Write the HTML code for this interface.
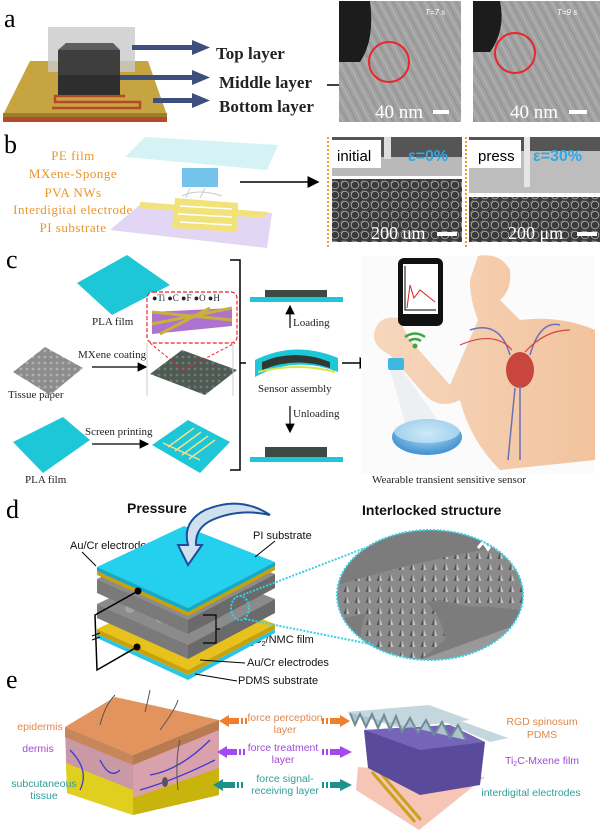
<!DOCTYPE html>
<html><head><meta charset="utf-8"><style>
html,body{margin:0;padding:0;background:#fff;}
svg{display:block;}
.ser{font-family:"Liberation Serif",serif;}
.san{font-family:"Liberation Sans",sans-serif;}
</style></head><body>
<svg width="600" height="835" viewBox="0 0 600 835" xmlns="http://www.w3.org/2000/svg">
<defs>
<pattern id="streak" width="8" height="8" patternUnits="userSpaceOnUse" patternTransform="rotate(62)"><rect width="8" height="8" fill="#a2a2a2"/><line x1="0" y1="2" x2="8" y2="2" stroke="#bcbcbc" stroke-width="0.8"/><line x1="0" y1="6" x2="8" y2="6" stroke="#8a8a8a" stroke-width="0.8"/></pattern>
<pattern id="foam" width="10" height="10" patternUnits="userSpaceOnUse"><rect width="10" height="10" fill="#3a3a3a"/><circle cx="5" cy="5" r="3.8" fill="none" stroke="#aaa" stroke-width="0.9"/><circle cx="0" cy="0" r="2.5" fill="none" stroke="#888" stroke-width="0.7"/></pattern>
<pattern id="dots" width="6" height="6" patternUnits="userSpaceOnUse"><rect width="6" height="6" fill="#8c8c8c"/><circle cx="3" cy="3" r="1.4" fill="#b0b0b0"/></pattern>
<pattern id="dots2" width="6" height="6" patternUnits="userSpaceOnUse"><rect width="6" height="6" fill="#4f5a54"/><circle cx="3" cy="3" r="1.4" fill="#6f7a74"/></pattern>
<pattern id="spikes" width="11" height="11" patternUnits="userSpaceOnUse"><rect width="11" height="11" fill="#8a8a8a"/><path d="M5.5 1 L8.5 9 L2.5 9Z" fill="#555"/><path d="M5.5 1 L8.5 9 L5.5 9Z" fill="#c4c4c4"/></pattern>
<linearGradient id="skin" x1="0" y1="0" x2="1" y2="0"><stop offset="0" stop-color="#f6d7bd"/><stop offset="1" stop-color="#f2c39e"/></linearGradient>
<radialGradient id="dish" cx="0.5" cy="0.4" r="0.6"><stop offset="0" stop-color="#bfe3f7"/><stop offset="1" stop-color="#3d8fd0"/></radialGradient>
<marker id="ah" markerWidth="8" markerHeight="8" refX="7" refY="4" orient="auto"><path d="M0 0 L8 4 L0 8Z" fill="#000"/></marker>
<clipPath id="circ"><ellipse cx="430" cy="595" rx="93" ry="65"/></clipPath>
</defs>

<!-- ============ Panel a ============ -->
<text x="4" y="27" class="ser" font-size="26">a</text>
<polygon points="3,115 167,115 167,122 3,122" fill="#b5492a"/>
<polygon points="3,115 30,61 148,61 167,115" fill="#c6a541"/>
<polygon points="3,113 167,113 167,117 3,117" fill="#9c7f2e"/>
<path d="M52,108 L140,108 L140,102 L55,102 L55,96 L125,96" stroke="#b5492a" stroke-width="2.5" fill="none"/>
<polygon points="48,72 48,27 135,27 135,72" fill="#c9c9c9" opacity="0.8"/>
<polygon points="58,95 58,50 120,50 120,95" fill="#3e3e3e"/>
<polygon points="58,50 66,43 113,43 120,50" fill="#5e5e5e"/>
<polygon points="58,75 120,75 120,95 58,95" fill="#2e2e2e"/>
<g fill="#3d4f7c">
<rect x="132" y="45" width="62" height="5"/><polygon points="192,40 210,47.5 192,55"/>
<rect x="120" y="75" width="74" height="5"/><polygon points="192,70 210,77.5 192,85"/>
<rect x="153" y="98" width="41" height="5"/><polygon points="192,93 210,100.5 192,108"/>
</g>
<g class="ser" font-size="17" font-weight="bold" fill="#222">
<text x="216" y="59">Top layer</text>
<text x="219" y="88">Middle layer</text>
<text x="219" y="112">Bottom layer</text>
</g>
<line x1="327" y1="85" x2="356" y2="85" stroke="#000" stroke-width="1.5" marker-end="url(#ah)"/>
<rect x="339" y="1" width="122" height="121" fill="url(#streak)"/>
<path d="M339,1 L370,1 Q375,40 360,62 L339,62Z" fill="#1c1c1c"/>
<circle cx="389" cy="62" r="20" fill="none" stroke="#e8262b" stroke-width="2"/>
<text x="425" y="15" class="san" font-size="8" font-style="italic" fill="#fff">T=7 s</text>
<text x="375" y="118" class="ser" font-size="19" fill="#fff">40 nm</text>
<rect x="433" y="110" width="16" height="4" fill="#fff"/>
<rect x="473" y="1" width="127" height="121" fill="url(#streak)"/>
<path d="M473,1 L500,1 Q506,30 490,52 L473,52Z" fill="#1c1c1c"/>
<circle cx="515" cy="53" r="20" fill="none" stroke="#e8262b" stroke-width="2"/>
<text x="557" y="15" class="san" font-size="8" font-style="italic" fill="#fff">T=9 s</text>
<text x="510" y="118" class="ser" font-size="19" fill="#fff">40 nm</text>
<rect x="569" y="110" width="18" height="4" fill="#fff"/>

<!-- ============ Panel b ============ -->
<text x="4" y="153" class="ser" font-size="26">b</text>
<g class="ser" font-size="13" fill="#e8962e" text-anchor="middle" letter-spacing="0.5">
<text x="73" y="160">PE film</text>
<text x="73" y="178">MXene-Sponge</text>
<text x="73" y="197">PVA NWs</text>
<text x="73" y="214">Interdigital electrode</text>
<text x="73" y="232">PI substrate</text>
</g>
<polygon points="125,157 145,137 278,145 267,170" fill="#d5f2f5"/>
<polygon points="110,230 143,202 272,213 267,248" fill="#e3d6f5"/>
<polygon points="140,202 268,212 262,218 140,208" fill="#f1e37a"/>
<polygon points="175,198 238,203 238,232 172,228" fill="#f1e37a"/>
<path d="M180,206 L232,209 M178,214 L232,217 M180,222 L232,225" stroke="#fff" stroke-width="1.5"/>
<path d="M182,196 Q198,188 222,196 M186,198 L190,188 M200,198 L205,188" stroke="#ccc" fill="none"/>
<rect x="182" y="168" width="36" height="19" fill="#5ab8e8" opacity="0.85"/>
<line x1="240" y1="182" x2="318" y2="182" stroke="#000" stroke-width="1.5" marker-end="url(#ah)"/>
<line x1="328" y1="137" x2="328" y2="247" stroke="#f39c2b" stroke-width="2" stroke-dasharray="2,2"/>
<line x1="466" y1="137" x2="466" y2="247" stroke="#f39c2b" stroke-width="2" stroke-dasharray="2,2"/>
<rect x="332" y="157" width="130" height="20" fill="#b9b9b9"/>
<rect x="332" y="137" width="130" height="20" fill="#555"/>
<rect x="332" y="176" width="130" height="3" fill="#fff"/>
<rect x="332" y="179" width="130" height="63" fill="url(#foam)"/>
<rect x="332" y="140" width="49" height="28" fill="#fff"/>
<text x="337" y="161" class="san" font-size="15" fill="#000">initial</text>
<rect x="384" y="137" width="7" height="22" fill="#ddd"/>
<text x="408" y="161" class="san" font-size="16" font-weight="bold" fill="#2ea8e6">ε=0%</text>
<text x="371" y="239" class="ser" font-size="18" fill="#fff">200 um</text>
<rect x="437" y="232" width="20" height="4" fill="#fff"/>
<rect x="469" y="137" width="131" height="58" fill="#bdbdbd"/>
<rect x="469" y="137" width="131" height="14" fill="#555"/>
<rect x="469" y="193" width="131" height="4" fill="#fff"/>
<rect x="469" y="197" width="131" height="45" fill="url(#foam)"/>
<rect x="469" y="140" width="52" height="28" fill="#fff"/>
<text x="478" y="161" class="san" font-size="15" fill="#000">press</text>
<rect x="524" y="137" width="6" height="50" fill="#e6e6e6"/>
<text x="533" y="161" class="san" font-size="16" font-weight="bold" fill="#2ea8e6">ε=30%</text>
<text x="508" y="239" class="ser" font-size="18" fill="#fff">200 μm</text>
<rect x="577" y="232" width="20" height="4" fill="#fff"/>

<!-- ============ Panel c ============ -->
<text x="6" y="268" class="ser" font-size="26">c</text>
<g class="ser" font-size="11" fill="#222">
<text x="92" y="325">PLA film</text>
<text x="8" y="398">Tissue paper</text>
<text x="78" y="358">MXene coating</text>
<text x="25" y="483">PLA film</text>
<text x="85" y="435">Screen printing</text>
<text x="293" y="326">Loading</text>
<text x="258" y="392">Sensor assembly</text>
<text x="293" y="417">Unloading</text>
<text x="372" y="483">Wearable transient sensitive sensor</text>
</g>
<polygon points="77,283 127,255 170,285 112,315" fill="#1ec7d8"/>
<polygon points="13,442 63,417 90,440 43,473" fill="#1ec7d8"/>
<polygon points="13,372 45,347 83,368 50,395" fill="url(#dots)"/>
<polygon points="150,374 182,350 237,370 205,395" fill="url(#dots2)"/>
<polygon points="152,445 188,420 230,442 200,473" fill="#1ec7d8"/>
<path d="M168,447 L194,428 M175,451 L201,432 M182,455 L208,436 M189,459 L215,440 M163,443 L200,460" stroke="#f4e08a" stroke-width="1.5" fill="none"/>
<line x1="92" y1="367" x2="146" y2="367" stroke="#000" stroke-width="1.2" marker-end="url(#ah)"/>
<line x1="92" y1="444" x2="148" y2="444" stroke="#000" stroke-width="1.2" marker-end="url(#ah)"/>
<rect x="147" y="292" width="90" height="51" rx="6" fill="#fff" stroke="#e8262b" stroke-dasharray="4,2" stroke-width="1.2"/>
<text x="152" y="301" class="ser" font-size="9" fill="#222">●Ti ●C ●F ●O ●H</text>
<polygon points="152,312 232,308 232,326 152,334" fill="#9a4fc4" opacity="0.8"/>
<path d="M152,312 L232,320 M152,324 L232,308 M160,334 L210,308" stroke="#c8b03a" stroke-width="3"/>
<path d="M150,343 L183,370 L235,343" stroke="#e8262b" stroke-dasharray="3,2" fill="none"/>
<line x1="147" y1="343" x2="147" y2="396" stroke="#ccc"/><line x1="233" y1="343" x2="233" y2="396" stroke="#ccc"/>
<path d="M230,260 L240,260 L240,470 L230,470 M240,363 L246,363" stroke="#000" stroke-width="1.5" fill="none"/>
<rect x="250" y="297" width="93" height="5" fill="#1ec7d8"/><rect x="265" y="290" width="62" height="7" fill="#3d4a44"/>
<line x1="290" y1="328" x2="290" y2="306" stroke="#000" stroke-width="1.2" marker-end="url(#ah)"/>
<path d="M255,360 Q295,340 338,358 L338,372 Q295,355 255,377Z" fill="#1ec7d8"/>
<path d="M262,362 Q295,348 330,362 L330,368 Q295,356 262,370Z" fill="#2f3a34"/>
<path d="M258,372 Q298,362 335,372" stroke="#d7e34f" stroke-width="2" fill="none"/>
<line x1="290" y1="406" x2="290" y2="432" stroke="#000" stroke-width="1.2" marker-end="url(#ah)"/>
<rect x="250" y="457" width="93" height="5" fill="#1ec7d8"/><rect x="265" y="447" width="62" height="10" fill="#3d4a44"/>
<line x1="342" y1="363" x2="370" y2="363" stroke="#000" stroke-width="1.5" marker-end="url(#ah)"/>
<rect x="361" y="256" width="234" height="218" fill="#fbfbfb"/>
<path d="M478,256 Q500,252 510,270 Q512,290 500,300 L520,320 Q560,315 595,330 L595,460 L500,470 Q470,440 460,400 Q440,410 425,395 L390,355 Q370,345 375,330 Q380,315 398,318 L410,340 L450,385 Q465,350 478,320 Q470,300 470,280Z" fill="url(#skin)"/>
<ellipse cx="520" cy="370" rx="14" ry="18" fill="#c8463e"/>
<path d="M510,355 Q500,320 470,330 M530,355 Q540,320 560,325 M520,385 L520,460 M515,388 L508,460" stroke="#6b6fb8" stroke-width="1.5" fill="none"/>
<path d="M512,350 Q495,330 460,345 M525,352 Q545,330 570,330" stroke="#d0473e" stroke-width="1.2" fill="none"/>
<rect x="388" y="358" width="16" height="12" rx="2" fill="#3db8e0"/>
<polygon points="390,370 402,370 445,430 410,440" fill="#e4eaee" opacity="0.6"/>
<ellipse cx="427" cy="437" rx="35" ry="18" fill="url(#dish)"/>
<ellipse cx="427" cy="431" rx="33" ry="12" fill="#d6eefa" opacity="0.6"/>
<rect x="398" y="258" width="45" height="68" rx="6" fill="#111"/>
<rect x="403" y="264" width="35" height="50" fill="#fff"/>
<path d="M407,308 L410,285 L414,298 L420,290 L435,302" stroke="#d22" fill="none"/>
<path d="M405,266 L405,310 L436,310" stroke="#000" fill="none"/>
<path d="M405,337 Q415,330 425,337 M409,341 Q415,337 421,341" stroke="#3fa648" stroke-width="2.5" fill="none"/>
<circle cx="415" cy="346" r="2.5" fill="#3fa648"/>

<!-- ============ Panel d ============ -->
<text x="6" y="518" class="ser" font-size="26">d</text>
<text x="127" y="513" class="san" font-size="14" font-weight="bold" fill="#111">Pressure</text>
<text x="362" y="515" class="san" font-size="14" font-weight="bold" fill="#111">Interlocked structure</text>
<g class="san" font-size="11" fill="#111">
<text x="70" y="549">Au/Cr electrodes</text>
<text x="253" y="539">PI substrate</text>
<text x="241" y="643">Ti<tspan font-size="7" dy="3">3</tspan><tspan dy="-3">C</tspan><tspan font-size="7" dy="3">2</tspan><tspan dy="-3">/NMC film</tspan></text>
<text x="247" y="666">Au/Cr electrodes</text>
<text x="238" y="684">PDMS substrate</text>
</g>
<g>
<polygon points="97,634 188,675 275,629 275,633 188,680 97,638" fill="#29c5e6"/>
<polygon points="97,629 184,588 275,624 188,670" fill="#e8c21c"/>
<polygon points="97,629 188,670 275,624 275,629 188,675 97,634" fill="#c9a10b"/>
<polygon points="97,604 184,563 275,599 188,645" fill="#8b8b8b"/>
<polygon points="97,604 188,645 188,659 97,618" fill="#7a7a7a"/>
<polygon points="188,645 275,599 275,613 188,659" fill="#6a6a6a"/>
<g fill="#aaa" opacity="0.8"><circle cx="130" cy="608" r="5"/><circle cx="160" cy="618" r="5"/><circle cx="190" cy="628" r="5"/><circle cx="215" cy="612" r="5"/><circle cx="240" cy="600" r="5"/><circle cx="180" cy="598" r="5"/></g>
<polygon points="97,579 184,538 275,574 188,620" fill="#8b8b8b"/>
<polygon points="97,579 188,620 188,634 97,593" fill="#7a7a7a"/>
<polygon points="188,620 275,574 275,588 188,634" fill="#6a6a6a"/>
<polygon points="97,571 184,530 275,566 188,612" fill="#e8c21c"/>
<polygon points="97,571 188,612 275,566 275,570 188,616 97,575" fill="#c9a10b"/>
<polygon points="97,567 184,526 275,562 188,608" fill="#25cfee"/>
<polygon points="97,567 188,608 275,562 275,566 188,612 97,571" fill="#14a9c9"/>
</g>
<path d="M270,515 Q240,495 205,510 Q182,522 188,545 L178,545 L188,565 L202,545 L196,545 Q195,528 212,520 Q240,508 270,515Z" fill="#cfe0ef" stroke="#1b4f9c" stroke-width="2"/>
<path d="M138,591 L95,615 L97,670 L137,647" stroke="#000" stroke-width="1.5" fill="none"/>
<circle cx="138" cy="591" r="3.5" fill="#000"/><circle cx="137" cy="647" r="3.5" fill="#000"/>
<path d="M92,636 L100,633 M92,640 L100,637" stroke="#000" stroke-width="1"/>
<path d="M203,615 L216,615 L216,643 L203,643 M216,629 L220,629" stroke="#000" stroke-width="1.2" fill="none"/>
<line x1="82" y1="552" x2="96" y2="566" stroke="#000"/>
<line x1="275" y1="541" x2="255" y2="557" stroke="#000"/>
<line x1="245" y1="663" x2="200" y2="660" stroke="#000"/>
<line x1="237" y1="681" x2="195" y2="674" stroke="#000"/>
<g clip-path="url(#circ)">
<rect x="330" y="525" width="200" height="140" fill="#7c7c7c"/>
<path d="M337,585 Q420,560 510,545 L525,600 Q480,610 460,605 L440,600 Q400,605 337,620Z" fill="url(#spikes)"/>
<path d="M360,650 Q360,590 400,590 Q440,600 445,640 L420,660Z" fill="url(#spikes)"/>
<path d="M470,605 Q480,570 520,565 L525,610 Z" fill="url(#spikes)"/>
<path d="M420,660 L530,620 L530,665 Z" fill="#999"/>
<path d="M478,548 L483,542 L488,549 L493,542 L498,549 L503,543 L508,550" stroke="#fff" stroke-width="3" fill="none"/>
</g>
<ellipse cx="430" cy="595" rx="93" ry="65" fill="none" stroke="#35d0e8" stroke-width="2" stroke-dasharray="2,1.5"/>
<ellipse cx="240" cy="608" rx="9" ry="12" fill="none" stroke="#35d0e8" stroke-width="2" stroke-dasharray="2,1.5"/>
<line x1="240" y1="596" x2="365" y2="548" stroke="#35d0e8" stroke-width="2" stroke-dasharray="2,1.5"/>
<line x1="245" y1="619" x2="375" y2="645" stroke="#35d0e8" stroke-width="2" stroke-dasharray="2,1.5"/>

<!-- ============ Panel e ============ -->
<text x="6" y="688" class="ser" font-size="26">e</text>
<polygon points="65,727 133,755 133,815 67,793" fill="#c99aa6"/>
<polygon points="133,755 219,720 219,795 133,815" fill="#d8a1ab"/>
<polygon points="66,763 133,790 133,815 67,793" fill="#e0cf1e"/>
<polygon points="133,798 219,768 219,795 133,815" fill="#c9b40e"/>
<polygon points="65,727 133,755 133,765 65,737" fill="#c8875a"/>
<polygon points="133,755 219,720 219,730 133,765" fill="#b87a50"/>
<polygon points="65,727 115,697 219,720 133,755" fill="#e2935e"/>
<path d="M70,750 Q90,770 80,790 M100,760 Q110,780 120,770 M150,775 Q180,770 210,740 M140,790 Q175,780 215,760" stroke="#3d3ad0" stroke-width="1.3" fill="none"/>
<path d="M100,725 Q105,705 115,695 M145,712 Q148,700 150,690 M160,730 Q175,710 178,700 M178,790 Q175,760 180,740" stroke="#555" stroke-width="1" fill="none"/>
<ellipse cx="165" cy="782" rx="3" ry="5" fill="#555"/>
<g class="san" font-size="10.5" text-anchor="middle">
<text x="40" y="730" fill="#e0874b">epidermis</text>
<text x="38" y="752" fill="#a349d8">dermis</text>
<text x="44" y="787" fill="#2e9e9a">subcutaneous</text>
<text x="44" y="799" fill="#2e9e9a">tissue</text>
<text x="285" y="721" fill="#e0874b">force perception</text>
<text x="285" y="733" fill="#e0874b">layer</text>
<text x="283" y="751" fill="#a349d8">force treatment</text>
<text x="283" y="763" fill="#a349d8">layer</text>
<text x="285" y="782" fill="#2e9e9a">force signal-</text>
<text x="285" y="794" fill="#2e9e9a">receiving layer</text>
<text x="542" y="725" fill="#e0874b">RGD spinosum</text>
<text x="542" y="738" fill="#e0874b">PDMS</text>
<text x="542" y="764" fill="#a349d8">Ti<tspan font-size="7" dy="2">2</tspan><tspan dy="-2">C-Mxene film</tspan></text>
<text x="531" y="796" fill="#2e9e9a">interdigital electrodes</text>
</g>
<g>
<polygon points="219,721 229,715 229,727" fill="#ef7f2c"/><rect x="229" y="718" width="10" height="6" fill="#ef7f2c"/><rect x="241" y="718" width="2" height="6" fill="#ef7f2c"/><rect x="245" y="718" width="2" height="6" fill="#ef7f2c"/>
<rect x="322" y="718" width="2" height="6" fill="#ef7f2c"/><rect x="326" y="718" width="2" height="6" fill="#ef7f2c"/><rect x="330" y="718" width="10" height="6" fill="#ef7f2c"/><polygon points="340,715 350,721 340,727" fill="#ef7f2c"/>
<polygon points="217,752 227,746 227,758" fill="#a349ef"/><rect x="227" y="749" width="10" height="6" fill="#a349ef"/><rect x="239" y="749" width="2" height="6" fill="#a349ef"/><rect x="243" y="749" width="2" height="6" fill="#a349ef"/>
<rect x="322" y="749" width="2" height="6" fill="#a349ef"/><rect x="326" y="749" width="2" height="6" fill="#a349ef"/><rect x="330" y="749" width="10" height="6" fill="#a349ef"/><polygon points="340,746 352,752 340,758" fill="#a349ef"/>
<polygon points="213,785 223,779 223,791" fill="#1f918c"/><rect x="223" y="782" width="12" height="6" fill="#1f918c"/><rect x="237" y="782" width="2" height="6" fill="#1f918c"/><rect x="241" y="782" width="2" height="6" fill="#1f918c"/>
<rect x="322" y="782" width="2" height="6" fill="#1f918c"/><rect x="326" y="782" width="2" height="6" fill="#1f918c"/><rect x="330" y="782" width="10" height="6" fill="#1f918c"/><polygon points="340,779 352,785 340,791" fill="#1f918c"/>
</g>
<polygon points="358,767 485,777 419,830 356,790" fill="#f6c5b6"/>
<path d="M372,772 L415,822 M378,770 L421,820" stroke="#c9a21e" stroke-width="3"/>
<polygon points="364,730 450,725 485,742 480,785 420,795 368,768" fill="#5a4a9c"/>
<polygon points="364,730 450,725 485,742 420,750" fill="#7664b8"/>
<polygon points="346,712 429,705 470,720 400,728" fill="#c4d6de"/>
<polygon points="450,717 508,738 490,742 445,722" fill="#c4d6de"/>
<path d="M350,713 L355,725 L360,714 L366,727 L372,714 L378,728 L384,715 L390,730 L396,716 L402,732 L410,718 L418,733 L426,720 L434,735 L442,722 L450,738 L458,725 L466,740" stroke="#6f8c96" stroke-width="2" fill="#aac3cd"/>
</svg>
</body></html>
